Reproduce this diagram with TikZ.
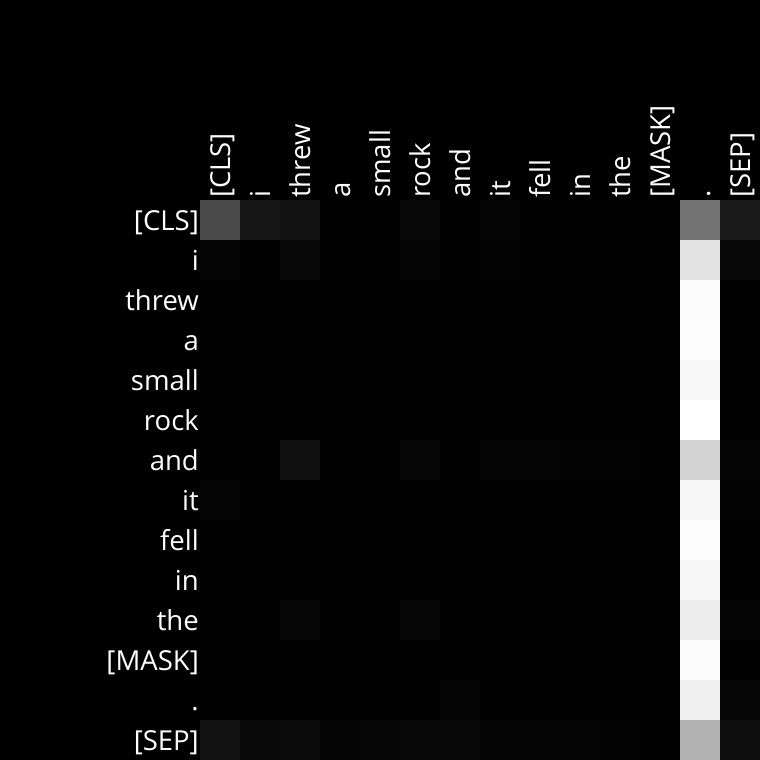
\documentclass[tikz,border=0pt]{standalone}
\usepackage{fontspec}
\setmainfont{Open Sans}
\begin{document}
\begin{tikzpicture}[x=1pt,y=-1pt,
  tok/.style={text=white,font=\fontsize{27.5}{27.5}\selectfont,inner sep=0pt}]
\fill[black] (0,0) rectangle (760,760);
\useasboundingbox (0,0) rectangle (760,760);
% attention weights, 0--255
\foreach \row [count=\i from 0] in {
  {74,22,18,2,2,7,2,5,1,1,1,1,115,26},
  {4,1,7,1,1,5,1,3,2,2,1,1,227,7},
  {1,1,1,1,1,1,1,1,1,1,1,1,252,1},
  {1,1,1,1,1,1,1,1,1,1,1,1,253,1},
  {1,1,1,1,1,2,1,1,1,1,1,1,249,1},
  {1,1,1,1,1,1,1,1,1,1,1,1,255,1},
  {2,1,16,2,2,6,2,5,5,3,3,1,211,4},
  {5,1,1,1,1,1,1,1,1,1,1,1,246,3},
  {1,1,1,1,1,1,1,1,1,1,1,1,253,1},
  {1,1,1,1,1,1,1,1,1,1,1,1,247,1},
  {1,1,6,1,1,6,1,1,1,1,1,1,237,5},
  {1,1,1,1,1,1,1,1,1,1,1,1,251,2},
  {1,1,1,1,1,1,5,1,1,1,1,1,240,6},
  {18,10,11,4,6,7,8,5,4,4,3,2,178,14}} {
  \foreach \v [count=\j from 0] in \row {
    \definecolor{cell}{RGB}{\v,\v,\v}
    \fill[cell] (200+40*\j,200+40*\i) rectangle ++(40,40);
  }
}
% tokens
\foreach \t [count=\i from 0] in {{[CLS]},i,threw,a,small,rock,and,it,fell,in,the,{[MASK]},.,{[SEP]}} {
  \node[tok,anchor=base east] (row-\i) at (199,230+40*\i) {\t};
  \node[tok,rotate=90,anchor=base west] (col-\i) at (230+40*\i,198) {\t};
}
\end{tikzpicture}
\end{document}
